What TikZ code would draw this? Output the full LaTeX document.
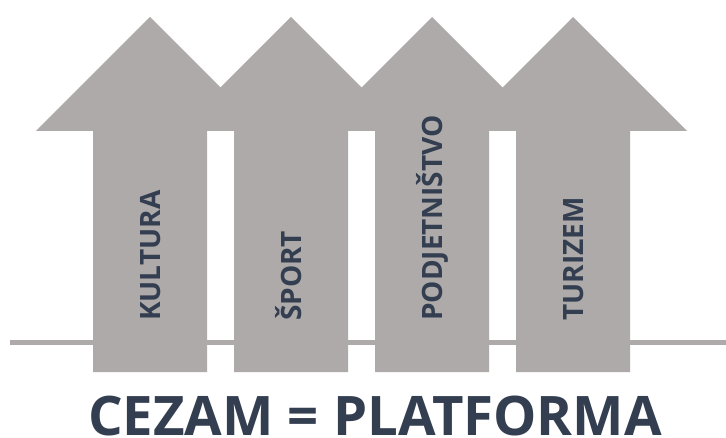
\documentclass[tikz,border=0pt]{standalone}
\usepackage{fontspec}
\setmainfont{Open Sans}
\usepackage{tikz}
\definecolor{arrowgray}{RGB}{174,170,169}
\definecolor{labelblue}{RGB}{51,62,80}

\begin{document}
\begin{tikzpicture}[x=1pt,y=1pt,
    field/.style={font=\fontsize{28}{30}\selectfont\bfseries, text=labelblue,
      rotate=90, anchor=base west, inner sep=0pt}]
    \useasboundingbox (0,0) rectangle (726,437);

    % base line
    \draw[arrowgray, line width=5pt] (10,95) -- (726,95);

    % arrows
    \foreach \cx/\name/\txt in {150/kultura/KULTURA, 291/sport/ŠPORT,
        432/podjetnistvo/PODJETNIŠTVO, 573/turizem/TURIZEM} {
      \fill[arrowgray] (\cx-57,65) -- (\cx+57,65) -- (\cx+57,306) -- (\cx+114,306)
        -- (\cx,420) -- (\cx-114,306) -- (\cx-57,306) -- cycle;
      \node[field] (\name) at (\cx+10.5,116) {\txt};
    }

    % title
    \node[font=\fontsize{54.5}{58}\selectfont\bfseries, text=labelblue,
      anchor=base, inner sep=0pt] (title) at (375,2) {CEZAM = PLATFORMA};
\end{tikzpicture}
\end{document}
